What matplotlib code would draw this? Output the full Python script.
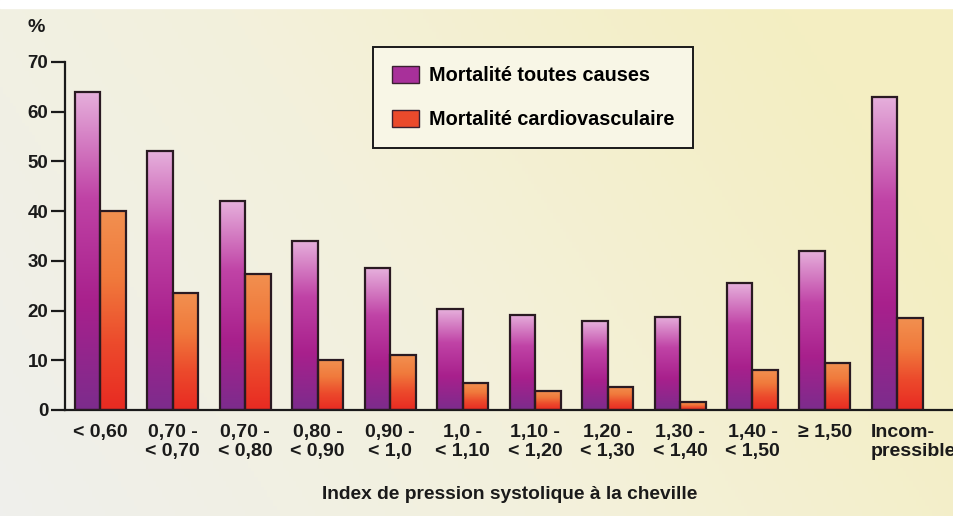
import numpy as np
import matplotlib
matplotlib.use("Agg")
import matplotlib.pyplot as plt
import matplotlib.transforms as mtransforms
from matplotlib.colors import LinearSegmentedColormap
from matplotlib.patches import Patch

plt.rcParams['font.family'] = ['Liberation Sans', 'DejaVu Sans']
plt.rcParams['font.weight'] = 'bold'

# data
categories = ['< 0,60', '0,70 -\n< 0,70', '0,70 -\n< 0,80', '0,80 -\n< 0,90',
              '0,90 -\n< 1,0', '1,0 -\n< 1,10', '1,10 -\n< 1,20', '1,20 -\n< 1,30',
              '1,30 -\n< 1,40', '1,40 -\n< 1,50', '\u2265 1,50', 'Incom-\npressible']
toutes_causes = [64, 52, 42, 34, 28.5, 20.3, 19.2, 17.9, 18.8, 25.5, 32, 63]
cardiovasc = [40, 23.5, 27.4, 10, 11, 5.4, 3.8, 4.7, 1.6, 8, 9.4, 18.5]
yticks = [0, 10, 20, 30, 40, 50, 60, 70]

purple_cmap = LinearSegmentedColormap.from_list(
    'purp', ['#7c2c8c', '#a8208c', '#c043a6', '#e6b0dc'])
orange_cmap = LinearSegmentedColormap.from_list(
    'orng', ['#e82a22', '#ec4a2c', '#f07a3c', '#f29050'])


# bar filled with a vertical gradient, clipped to the bar rectangle
def gradient_bars(ax, bars, cmap):
    grad = np.linspace(0, 1, 256).reshape(-1, 1)
    for b in bars:
        x0, y0 = b.get_x(), b.get_y()
        w, h = b.get_width(), b.get_height()
        im = ax.imshow(grad, cmap=cmap, origin='lower', aspect='auto',
                       extent=[x0, x0 + w, y0, y0 + h], zorder=2)
        im.set_clip_path(b)
        b.set_facecolor('none')


fig = plt.figure(figsize=(9.54, 5.16), dpi=100)

# paper background
bg = fig.add_axes([0, 0, 1, 1], zorder=-10)
bg_cmap = LinearSegmentedColormap.from_list('bg', ['#efefec', '#f3f1dc', '#f4eec2'])
xx = np.linspace(0, 1, 300)
yy = np.linspace(0, 1, 160).reshape(-1, 1)
bg.imshow(np.clip(xx * 0.85 + yy * 0.3, 0, 1), cmap=bg_cmap, aspect='auto',
          origin='lower', extent=[0, 1, 0, 1])
bg.axhspan(0.985, 1, color='white')
bg.set_xlim(0, 1)
bg.set_ylim(0, 1)
bg.axis('off')

ax = fig.add_axes([65 / 954, 1 - 410 / 516, 1 - 65 / 954, 348 / 516])
ax.patch.set_alpha(0)

x = np.arange(len(categories))
w = 0.352
b1 = ax.bar(x - w / 2, toutes_causes, w, edgecolor='#2a1a22', linewidth=1.6, zorder=3)
b2 = ax.bar(x + w / 2, cardiovasc, w, edgecolor='#2a1a22', linewidth=1.6, zorder=3)
gradient_bars(ax, b1, purple_cmap)
gradient_bars(ax, b2, orange_cmap)

ax.set_xlim(-0.485, 11.78)
ax.set_ylim(0, 70)
ax.set_yticks(yticks)
ax.set_xticks(x)
ax.set_xticklabels(categories, fontsize=14, fontweight='bold', color='#1a1a1a',
                   linespacing=1.15)
ax.tick_params(axis='x', length=0, pad=10)
ax.tick_params(axis='y', length=10, width=1.6, labelsize=13.5, pad=2, colors='#1a1a1a')
for lab in ax.get_yticklabels():
    lab.set_fontweight('bold')
# last label is left-aligned at the start of its group
last = ax.get_xticklabels()[-1]
last.set_horizontalalignment('left')
last.set_multialignment('left')
last.set_transform(last.get_transform() +
                   mtransforms.ScaledTranslation(-27 / 100, 0, fig.dpi_scale_trans))
for s in ['top', 'right']:
    ax.spines[s].set_visible(False)
for s in ['left', 'bottom']:
    ax.spines[s].set_linewidth(1.6)
    ax.spines[s].set_color('#1a1a1a')

fig.text(36 / 954, 1 - 28 / 516, '%', fontsize=14, fontweight='bold',
         ha='center', va='center', color='#1a1a1a')
ax.set_xlabel('Index de pression systolique \u00e0 la cheville', fontsize=13.8,
              fontweight='bold', labelpad=19, color='#1a1a1a')

handles = [Patch(facecolor='#a8309a', edgecolor='#3a2030', linewidth=1),
           Patch(facecolor='#ea4a2c', edgecolor='#3a2030', linewidth=1)]
leg = ax.legend(handles, ['Mortalit\u00e9 toutes causes', 'Mortalit\u00e9 cardiovasculaire'],
                loc='upper left', bbox_to_anchor=(373 / 954, 1 - 47 / 516),
                bbox_transform=fig.transFigure, fancybox=False, frameon=True,
                prop={'size': 14.3, 'weight': 'bold'}, handlelength=1.35,
                handleheight=0.95, labelspacing=1.25, borderpad=0.95,
                handletextpad=0.5, borderaxespad=0)
leg.get_frame().set_edgecolor('#1a1a1a')
leg.get_frame().set_linewidth(1.4)
leg.get_frame().set_facecolor('#f8f6e6')
leg.get_frame().set_alpha(1)

fig.savefig('out.png', dpi=100)
